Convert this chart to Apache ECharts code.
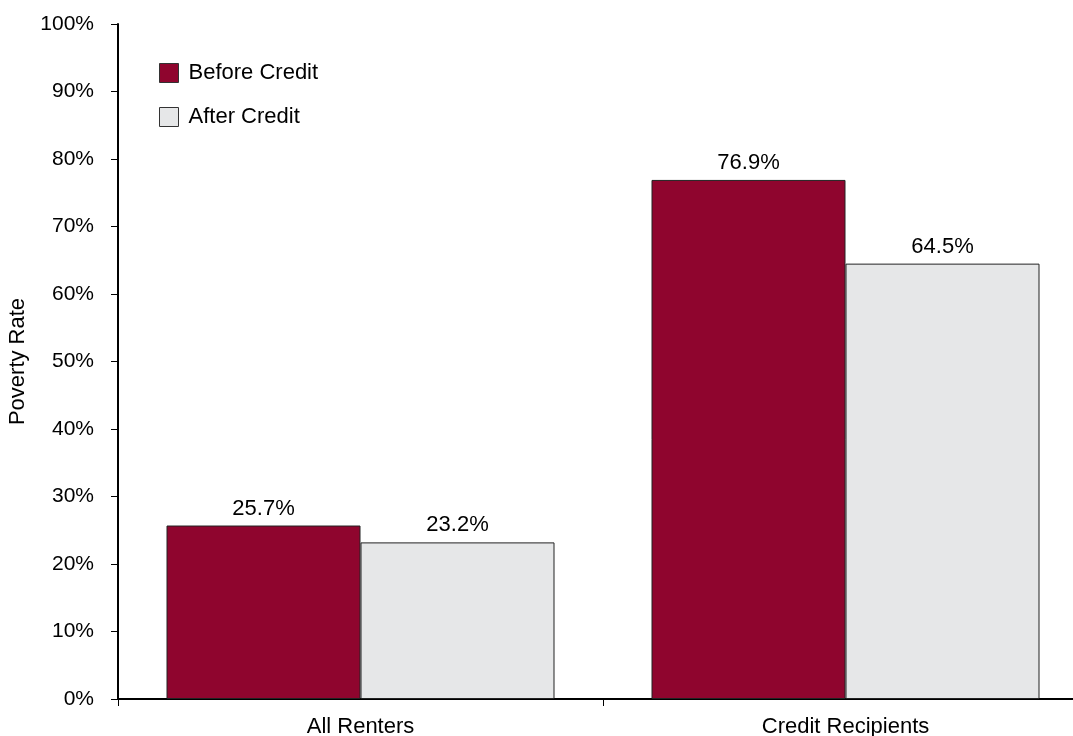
<!DOCTYPE html>
<html><head><meta charset="utf-8">
<script src="https://cdn.jsdelivr.net/npm/echarts@6/dist/echarts.min.js"></script>
<style>html,body{margin:0;padding:0;background:#fff}#c{width:1073px;height:736px}</style>
</head><body><div id="c"></div>
<script>
const categories = ['All Renters', 'Credit Recipients'];
const beforeCredit = [25.7, 76.9];
const afterCredit = [23.2, 64.5];
const seriesNames = ['Before Credit', 'After Credit'];
const yAxisTitle = 'Poverty Rate';

const font = 'Liberation Sans, Arial, sans-serif';
const chart = echarts.init(document.getElementById('c'), null, {renderer: 'canvas'});
const labelCfg = {
  show: true, position: 'top', distance: 6,
  formatter: p => p.value.toFixed(1) + '%',
  color: '#000', fontSize: 22, fontFamily: font
};
chart.setOption({
  animation: false,
  backgroundColor: '#fff',
  grid: {left: 118, top: 24, bottom: 37, width: 970, containLabel: false, outerBoundsMode: 'none'},
  legend: {
    orient: 'vertical', left: 159, top: 62, padding: 0, itemWidth: 19, itemHeight: 19, itemGap: 22,
    icon: 'rect',
    itemStyle: {borderColor: '#333', borderWidth: 1},
    textStyle: {fontSize: 22, lineHeight: 19, fontFamily: font, color: '#000', padding: [0,0,0,5]},
    data: seriesNames
  },
  xAxis: {
    type: 'category', data: categories,
    axisLine: {lineStyle: {color: '#000', width: 2}},
    axisTick: {show: true, length: 7, lineStyle: {color: '#000', width: 1}},
    axisLabel: {fontSize: 22, fontFamily: font, color: '#000', margin: 17}
  },
  yAxis: {
    type: 'value', min: 0, max: 100, interval: 10,
    name: yAxisTitle, nameLocation: 'middle', nameGap: 80,
    nameTextStyle: {fontSize: 22, fontFamily: font, color: '#000'},
    axisLine: {show: true, lineStyle: {color: '#000', width: 2}},
    axisTick: {show: true, length: 7, lineStyle: {color: '#000', width: 1}},
    axisLabel: {fontSize: 21, fontFamily: font, color: '#000', margin: 24, formatter: v => v + '%'},
    splitLine: {show: false}
  },
  series: [
    {name: seriesNames[0], type: 'bar', data: beforeCredit, barGap: '0%', barCategoryGap: '20%',
     itemStyle: {color: '#8F052E', borderColor: '#222', borderWidth: 1}, label: labelCfg},
    {name: seriesNames[1], type: 'bar', data: afterCredit,
     itemStyle: {color: '#E6E7E8', borderColor: '#222', borderWidth: 1}, label: labelCfg}
  ]
});
</script></body></html>
